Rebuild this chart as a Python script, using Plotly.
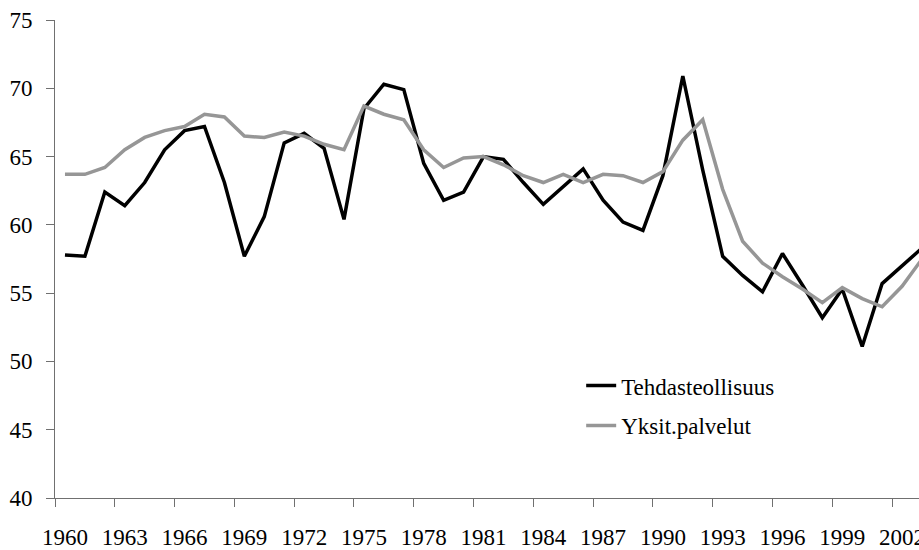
import plotly.graph_objects as go

years = list(range(1960, 2004))
tehdasteollisuus = [57.8, 57.7, 62.4, 61.4, 63.1, 65.5, 66.9, 67.2, 63.1, 57.7,
                    60.6, 66.0, 66.7, 65.6, 60.4, 68.5, 70.3, 69.9, 64.5, 61.8,
                    62.4, 65.0, 64.8, 63.1, 61.5, 62.8, 64.1, 61.8, 60.2, 59.6,
                    63.6, 70.9, 64.0, 57.7, 56.3, 55.1, 57.9, 55.6, 53.2, 55.3,
                    51.1, 55.7, 57.0, 58.3]
yksit_palvelut = [63.7, 63.7, 64.2, 65.5, 66.4, 66.9, 67.2, 68.1, 67.9, 66.5,
                  66.4, 66.8, 66.5, 65.9, 65.5, 68.7, 68.1, 67.7, 65.5, 64.2,
                  64.9, 65.0, 64.4, 63.6, 63.1, 63.7, 63.1, 63.7, 63.6, 63.1,
                  63.9, 66.2, 67.7, 62.6, 58.8, 57.2, 56.2, 55.3, 54.3, 55.4,
                  54.6, 54.0, 55.5, 57.5]
tick_years = years[::3]
tick_labels = [str(y) for y in tick_years]

FONT = "Liberation Serif"
AXIS = "#707070"
FS = 23

fig = go.Figure()
fig.add_trace(go.Scatter(x=years, y=tehdasteollisuus, mode="lines",
                         name="Tehdasteollisuus", legendgroup="a",
                         line=dict(color="#000000", width=3.5)))
fig.add_trace(go.Scatter(x=years, y=yksit_palvelut, mode="lines",
                         name="Yksit.palvelut", legendgroup="b",
                         line=dict(color="#969696", width=3.5)))

fig.update_layout(
    template="none",
    width=919, height=550,
    margin=dict(l=55, r=0, t=20, b=52, autoexpand=False),
    paper_bgcolor="white", plot_bgcolor="white",
    font=dict(family=FONT, size=FS, color="black"),
    showlegend=True,
    legend=dict(x=0.609, y=0.28, xanchor="left", yanchor="top",
                bgcolor="rgba(0,0,0,0)", font=dict(family=FONT, size=FS, color="black"),
                traceorder="grouped", tracegroupgap=7),
    xaxis=dict(range=[years[0] - 0.5, 2002.85], showgrid=False, zeroline=False,
               automargin=False,
               showline=True, linecolor=AXIS, linewidth=1,
               tickmode="array", tickvals=tick_years, ticktext=tick_labels,
               ticks="", ticklabelstandoff=18, ticklabeloverflow="allow",
               minor=dict(ticks="outside", tick0=years[0] - 0.5, dtick=3,
                          ticklen=8, tickcolor=AXIS, tickwidth=1, showgrid=False),
               tickfont=dict(family=FONT, size=FS, color="black")),
    yaxis=dict(range=[40, 75], dtick=5, showgrid=False, zeroline=False,
               automargin=False,
               showline=True, linecolor=AXIS, linewidth=1,
               ticks="outside", ticklen=8, tickcolor=AXIS, tickwidth=1,
               ticklabelstandoff=9,
               tickfont=dict(family=FONT, size=FS, color="black")),
)

fig.write_html("out.html",
               config={"displayModeBar": False},
               post_script="document.body.style.margin='0';document.body.style.overflow='hidden';")
